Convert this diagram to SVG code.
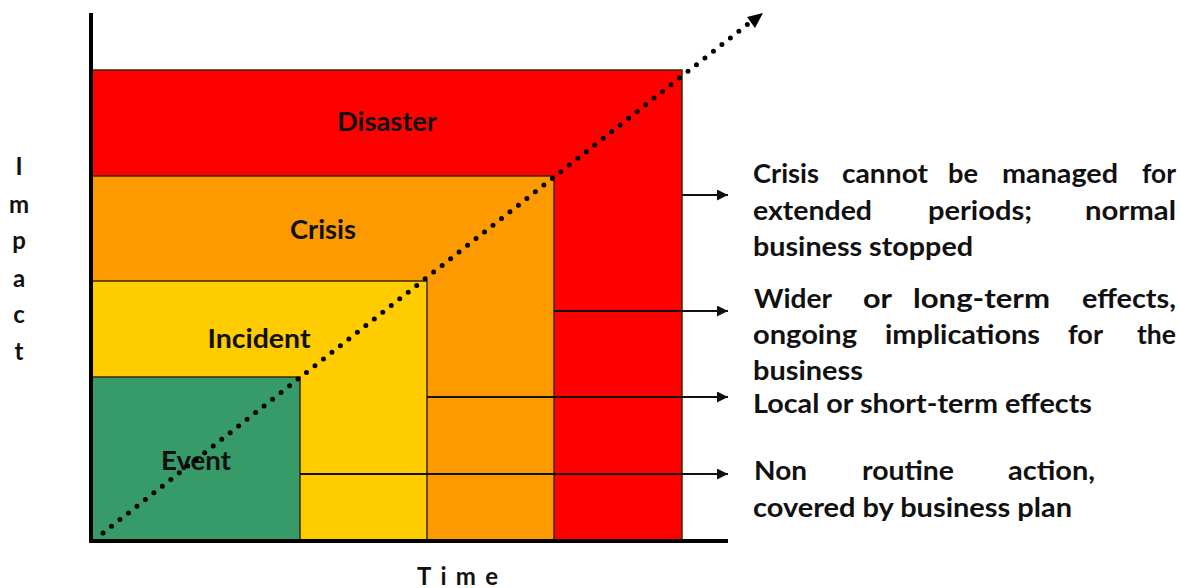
<svg xmlns="http://www.w3.org/2000/svg" width="1181" height="588" viewBox="0 0 1181 588">
  <style>
    .lbl { font-family: Lato, "Open Sans", "Liberation Sans", sans-serif; font-weight: 700; fill: #111; }
    .zone { font-size: 26px; text-anchor: middle; }
    .desc { font-size: 26px; }
    .axis { font-size: 24px; text-anchor: middle; }
    .band { stroke: #3a2a00; stroke-width: 1.5; }
    .lead { stroke: #111; stroke-width: 2; fill: none; marker-end: url(#tip); }
  </style>
  <defs>
    <marker id="tip" viewBox="0 0 10 10" refX="10" refY="5" markerWidth="5.5" markerHeight="5.5" orient="auto" markerUnits="strokeWidth">
      <path d="M0,0 L10,5 L0,10 Z" fill="#111"/>
    </marker>
  </defs>
  <rect width="1181" height="588" fill="#ffffff"/>

  <!-- impact zones, largest first -->
  <g id="disaster">
    <rect class="band" x="92" y="70" width="590" height="471" fill="#ff0000"/>
    <text class="lbl zone" x="387" y="131" textLength="100" lengthAdjust="spacingAndGlyphs">Disaster</text>
  </g>
  <g id="crisis">
    <rect class="band" x="92" y="176" width="462" height="365" fill="#fd9a00"/>
    <text class="lbl zone" x="323" y="239" textLength="66" lengthAdjust="spacingAndGlyphs">Crisis</text>
  </g>
  <g id="incident">
    <rect class="band" x="92" y="281" width="335" height="260" fill="#ffcc00"/>
    <text class="lbl zone" x="259" y="348" textLength="103" lengthAdjust="spacingAndGlyphs">Incident</text>
  </g>
  <g id="event">
    <rect class="band" x="92" y="377" width="208" height="164" fill="#369a69"/>
    <text class="lbl zone" x="196" y="470" textLength="70" lengthAdjust="spacingAndGlyphs">Event</text>
  </g>

  <!-- axes -->
  <g id="axes">
    <line x1="91" y1="13" x2="91" y2="543" stroke="#000" stroke-width="4"/>
    <line x1="89" y1="541" x2="728" y2="541" stroke="#000" stroke-width="4"/>
    <g class="lbl axis">
      <text x="19" y="175">I</text>
      <text x="19" y="213">m</text>
      <text x="19" y="249">p</text>
      <text x="19" y="287">a</text>
      <text x="19" y="323">c</text>
      <text x="19" y="360">t</text>
    </g>
    <text class="lbl" x="417" y="585" font-size="24" textLength="81" lengthAdjust="spacing">Time</text>
  </g>

  <!-- connectors -->
  <g id="connectors">
    <line x1="103" y1="533" x2="748" y2="24" stroke="#000" stroke-width="5" stroke-linecap="round" stroke-dasharray="0 10.8"/>
    <path d="M763,13 L747,17 L755,28 Z" fill="#000"/>
    <line class="lead" x1="682" y1="195" x2="728" y2="195"/>
    <line class="lead" x1="554" y1="311" x2="728" y2="311"/>
    <line class="lead" x1="427" y1="397" x2="728" y2="397"/>
    <line class="lead" x1="300" y1="474" x2="728" y2="474"/>
  </g>

  <!-- descriptions -->
  <g id="desc-disaster" class="lbl desc">
    <text x="753" y="183" textLength="66" lengthAdjust="spacingAndGlyphs">Crisis</text>
    <text x="842" y="183" textLength="86" lengthAdjust="spacingAndGlyphs">cannot</text>
    <text x="948" y="183" textLength="30" lengthAdjust="spacingAndGlyphs">be</text>
    <text x="1002" y="183" textLength="116" lengthAdjust="spacingAndGlyphs">managed</text>
    <text x="1142" y="183" textLength="34" lengthAdjust="spacingAndGlyphs">for</text>
    <text x="753" y="220" textLength="119" lengthAdjust="spacingAndGlyphs">extended</text>
    <text x="928" y="220" textLength="104" lengthAdjust="spacingAndGlyphs">periods;</text>
    <text x="1085" y="220" textLength="91" lengthAdjust="spacingAndGlyphs">normal</text>
    <text x="753" y="256" textLength="220" lengthAdjust="spacingAndGlyphs">business stopped</text>
  </g>
  <g id="desc-crisis" class="lbl desc">
    <text x="754" y="308" textLength="78" lengthAdjust="spacingAndGlyphs">Wider</text>
    <text x="863" y="308" textLength="29" lengthAdjust="spacingAndGlyphs">or</text>
    <text x="913" y="308" textLength="137" lengthAdjust="spacingAndGlyphs">long-term</text>
    <text x="1082" y="308" textLength="94" lengthAdjust="spacingAndGlyphs">effects,</text>
    <text x="753" y="344" textLength="104" lengthAdjust="spacingAndGlyphs">ongoing</text>
    <text x="885" y="344" textLength="155" lengthAdjust="spacingAndGlyphs">implications</text>
    <text x="1068" y="344" textLength="35" lengthAdjust="spacingAndGlyphs">for</text>
    <text x="1137" y="344" textLength="39" lengthAdjust="spacingAndGlyphs">the</text>
    <text x="753" y="380" textLength="110" lengthAdjust="spacingAndGlyphs">business</text>
  </g>
  <g id="desc-incident" class="lbl desc">
    <text x="753" y="413" textLength="339" lengthAdjust="spacingAndGlyphs">Local or short-term effects</text>
  </g>
  <g id="desc-event" class="lbl desc">
    <text x="754" y="480" textLength="53" lengthAdjust="spacingAndGlyphs">Non</text>
    <text x="862" y="480" textLength="92" lengthAdjust="spacingAndGlyphs">routine</text>
    <text x="1008" y="480" textLength="87" lengthAdjust="spacingAndGlyphs">action,</text>
    <text x="753" y="517" textLength="319" lengthAdjust="spacingAndGlyphs">covered by business plan</text>
  </g>
</svg>
